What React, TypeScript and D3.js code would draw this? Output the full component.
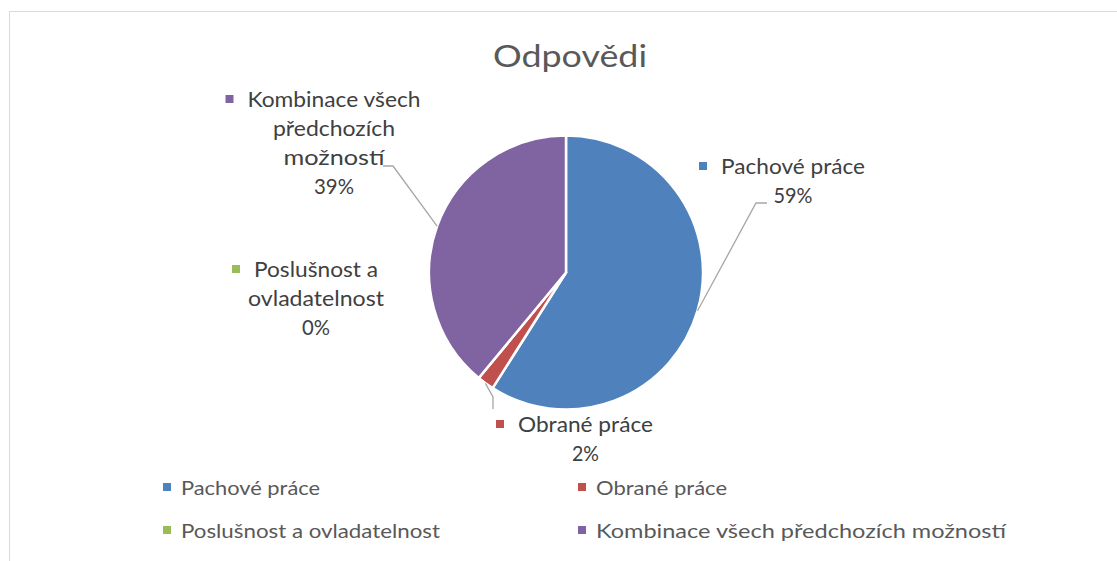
import React from 'react';
import * as d3 from 'd3';

// ---- data ----
const title = 'Odpovědi';
const categories = [
  'Pachové práce',
  'Obrané práce',
  'Poslušnost a ovladatelnost',
  'Kombinace všech předchozích možností',
];
const values = [59, 2, 0, 39];
const colors = ['#4F81BD', '#C0504D', '#9BBB59', '#8064A2'];
const labelLines = [
  ['Pachové práce'],
  ['Obrané práce'],
  ['Poslušnost a', 'ovladatelnost'],
  ['Kombinace všech', 'předchozích', 'možností'],
];

// ---- layout (positions / sizes) ----
const W = 1117;
const H = 561;
const center = { x: 566, y: 272.5 };
const radius = 137;
const lineH = 29;
const labelLayout = [
  { cx: 793, y0: 174, widths: [144], pctW: 39, leader: [[756, 203], [767, 203]] },
  { cx: 585.5, y0: 432, widths: [135], pctW: 27, leader: [[493, 397], [493, 409]] },
  { cx: 316, y0: 277, widths: [124, 136], pctW: 28, leader: null },
  { cx: 334, y0: 107, widths: [173, 122, 101], pctW: 40, leader: [[393, 166], [383, 166]] },
];
const legendLayout = [
  { x: 163, y: 495, w: 139 },
  { x: 578, y: 495, w: 131 },
  { x: 163, y: 538, w: 259 },
  { x: 578, y: 538, w: 410 },
];

const FONT = 'Lato, "Open Sans", sans-serif';

export default function App() {
  const total = d3.sum(values);
  const pie = d3
    .pie<number>()
    .sort(null)
    .value((d) => d)(values);
  const arc = d3.arc<d3.PieArcDatum<number>>().innerRadius(0).outerRadius(radius);

  const edgePoint = (a: d3.PieArcDatum<number>) => {
    const m = (a.startAngle + a.endAngle) / 2;
    return [center.x + radius * Math.sin(m), center.y - radius * Math.cos(m)];
  };

  return (
    <svg
      width={W}
      height={H}
      style={{ position: 'absolute', left: 0, top: 0, background: '#fff' }}
      fontFamily={FONT}
    >
      <rect x={9.5} y={11.5} width={1200} height={600} fill="#fff" stroke="#D9D9D9" strokeWidth={1} />
      <text
        x={570}
        y={67}
        textAnchor="middle"
        fontSize={30}
        fill="#595959"
        textLength={154}
        lengthAdjust="spacingAndGlyphs"
      >
        {title}
      </text>

      <g transform={`translate(${center.x},${center.y})`}>
        {pie.map((a, i) => (
          <path key={i} d={arc(a) || ''} fill={colors[i]} stroke="#fff" strokeWidth={2.5} strokeLinejoin="round" />
        ))}
      </g>

      {/* leader lines */}
      {pie.map((a, i) => {
        const L = labelLayout[i];
        if (!L.leader) return null;
        const pts = [edgePoint(a), ...L.leader] as [number, number][];
        return (
          <path key={'l' + i} d={d3.line()(pts) || ''} fill="none" stroke="#A6A6A6" strokeWidth={1.3} />
        );
      })}

      {/* data labels */}
      {pie.map((a, i) => {
        const L = labelLayout[i];
        const lines = labelLines[i];
        const pct = Math.round((values[i] / total) * 100) + '%';
        const firstStart = L.cx - L.widths[0] / 2;
        return (
          <g key={'d' + i} fill="#404040" fontSize={21}>
            <rect x={firstStart - 22} y={L.y0 - 12} width={8} height={8} fill={colors[i]} />
            {lines.map((t, j) => (
              <text
                key={j}
                x={L.cx}
                y={L.y0 + j * lineH}
                textAnchor="middle"
                textLength={L.widths[j]}
                lengthAdjust="spacingAndGlyphs"
              >
                {t}
              </text>
            ))}
            <text
              x={L.cx}
              y={L.y0 + lines.length * lineH}
              textAnchor="middle"
              textLength={L.pctW}
              lengthAdjust="spacingAndGlyphs"
            >
              {pct}
            </text>
          </g>
        );
      })}

      {/* legend */}
      {categories.map((c, i) => {
        const L = legendLayout[i];
        return (
          <g key={'lg' + i}>
            <rect x={L.x} y={L.y - 12} width={8} height={8} fill={colors[i]} />
            <text
              x={L.x + 18}
              y={L.y}
              fontSize={20}
              fill="#595959"
              textLength={L.w}
              lengthAdjust="spacingAndGlyphs"
            >
              {c}
            </text>
          </g>
        );
      })}
    </svg>
  );
}
